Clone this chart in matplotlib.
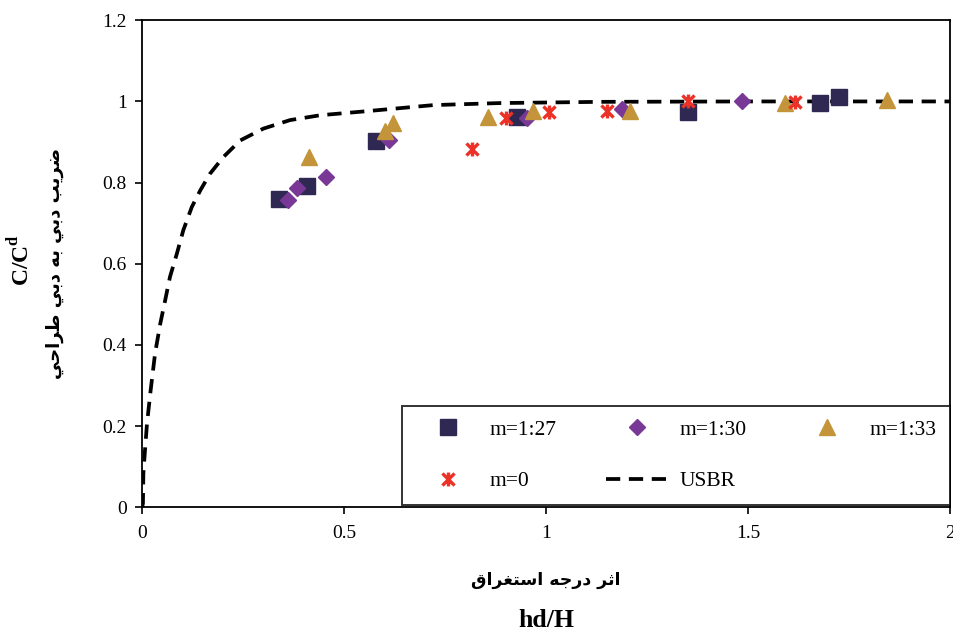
import unicodedata
import matplotlib
matplotlib.use("Agg")
import matplotlib.pyplot as plt
from matplotlib.path import Path

# ---------------- data ----------------
x_127 = [0.339, 0.408, 0.579, 0.927, 1.350, 1.678, 1.725]
y_127 = [0.759, 0.791, 0.902, 0.962, 0.974, 0.995, 1.011]

x_130 = [0.362, 0.383, 0.455, 0.612, 0.952, 1.187, 1.484]
y_130 = [0.757, 0.787, 0.814, 0.906, 0.958, 0.982, 1.001]

x_133 = [0.414, 0.601, 0.620, 0.857, 0.968, 1.208, 1.592, 1.843]
y_133 = [0.862, 0.927, 0.948, 0.962, 0.977, 0.977, 0.995, 1.003]

x_m0 = [0.816, 0.901, 1.006, 1.150, 1.352, 1.616]
y_m0 = [0.884, 0.960, 0.973, 0.977, 1.001, 0.999]

x_usbr = [0.0, 0.002, 0.003, 0.007, 0.012, 0.021, 0.032, 0.045, 0.057, 0.069,
          0.086, 0.102, 0.123, 0.144, 0.168, 0.201, 0.243, 0.300, 0.366,
          0.441, 0.556, 0.721, 0.886, 1.134, 1.5, 2.0]
y_usbr = [0.0, 0.01, 0.083, 0.14, 0.206, 0.288, 0.379, 0.453, 0.510, 0.568,
          0.625, 0.683, 0.740, 0.781, 0.822, 0.863, 0.904, 0.933, 0.954,
          0.966, 0.976, 0.991, 0.996, 0.999, 1.0, 1.0]

xticks = [0, 0.5, 1, 1.5, 2]
xticklabels = ["0", "0.5", "1", "1.5", "2"]
yticks = [0, 0.2, 0.4, 0.6, 0.8, 1.0, 1.2]
yticklabels = ["0", "0.2", "0.4", "0.6", "0.8", "1", "1.2"]

labels = ["m=1:27", "m=1:30", "m=1:33", "m=0", "USBR"]
xlabel_fa = "اثر درجه استغراق"
ylabel_fa = "ضريب دبي به دبي طراحي"


# -------- minimal Arabic shaping (presentation forms, visual order) --------
NON_LEFT_JOINING = set("اأإآدذرزوژ")


def _form(ch, kind):
    try:
        return unicodedata.lookup(unicodedata.name(ch) + " " + kind + " FORM")
    except Exception:
        return ch


def shape(text):
    out = []
    chars = list(text)
    n = len(chars)

    def is_ar(c):
        return "\u0600" <= c <= "\u06FF"

    for i, c in enumerate(chars):
        if not is_ar(c):
            out.append(c)
            continue
        prev = chars[i - 1] if i > 0 else " "
        nxt = chars[i + 1] if i < n - 1 else " "
        join_prev = is_ar(prev) and prev not in NON_LEFT_JOINING
        join_next = is_ar(nxt) and c not in NON_LEFT_JOINING
        if join_prev and join_next:
            out.append(_form(c, "MEDIAL"))
        elif join_prev:
            out.append(_form(c, "FINAL"))
        elif join_next:
            out.append(_form(c, "INITIAL"))
        else:
            out.append(_form(c, "ISOLATED"))
    return "".join(reversed(out))


# ---------------- figure ----------------
plt.rcParams["font.family"] = ["Liberation Serif", "DejaVu Sans"]
fig = plt.figure(figsize=(9.54, 6.34), dpi=100)
ax = fig.add_axes([0.149, 0.200, 0.847, 0.768])

c_127 = "#2F2853"
c_130 = "#7A3896"
c_133 = "#C4943A"
c_m0 = "#EC3127"

star = Path([(-1, -1), (1, 1), (-1, 1), (1, -1), (0, -1.15), (0, 1.15)],
            [Path.MOVETO, Path.LINETO, Path.MOVETO, Path.LINETO,
             Path.MOVETO, Path.LINETO])

(h_usbr,) = ax.plot(x_usbr, y_usbr, color="black", lw=2.7,
                    linestyle=(0, (3.8, 2.3)), zorder=2, label=labels[4])
(h_127,) = ax.plot(x_127, y_127, "s", color=c_127, ms=11, ls="none",
                   zorder=3, label=labels[0])
(h_130,) = ax.plot(x_130, y_130, "D", color=c_130, ms=8.5, ls="none",
                   zorder=3, label=labels[1])
(h_133,) = ax.plot(x_133, y_133, "^", color=c_133, ms=12, ls="none",
                   zorder=3, label=labels[2])
(h_m0,) = ax.plot(x_m0, y_m0, marker=star, color=c_m0, ms=10, mew=2.4,
                  ls="none", zorder=4, label=labels[3])

ax.set_xlim(0, 2)
ax.set_ylim(0, 1.2)
ax.set_xticks(xticks)
ax.set_xticklabels(xticklabels)
ax.set_yticks(yticks)
ax.set_yticklabels(yticklabels)
ax.tick_params(direction="out", length=5, width=1.2, labelsize=14,
               colors="black", pad=6)
ax.tick_params(axis="x", pad=8)
for s in ax.spines.values():
    s.set_linewidth(1.3)
    s.set_color("black")

handles = [h_127, h_m0, h_130, h_usbr, h_133]
leg = ax.legend(handles=handles, labels=[h.get_label() for h in handles],
                ncol=3, loc="lower left",
                bbox_to_anchor=(0.322, 0.004, 0.678, 0.207), mode="expand",
                borderaxespad=0.0,
                fontsize=15.5, frameon=True, fancybox=False, borderpad=0.65,
                labelspacing=1.45, handlelength=2.9, handletextpad=0.5,
                columnspacing=1.5)
leg.get_frame().set_edgecolor("black")
leg.get_frame().set_linewidth(1.4)

# axis labels
fig.text(0.5725, 0.085, shape(xlabel_fa), ha="center", va="center",
         fontsize=12.5, fontweight="bold", family=["DejaVu Sans"])
fig.text(0.5725, 0.022, "hd/H", ha="center", va="center",
         fontsize=18.5, fontweight="bold")
fig.text(0.022, 0.590, r"C/C$^{\mathregular{d}}$", ha="center", va="center",
         rotation=90, fontsize=17, fontweight="bold")
fig.text(0.058, 0.585, shape(ylabel_fa), ha="center", va="center",
         rotation=90, fontsize=13, fontweight="bold", family=["DejaVu Sans"])

fig.savefig("out.png", dpi=100)
